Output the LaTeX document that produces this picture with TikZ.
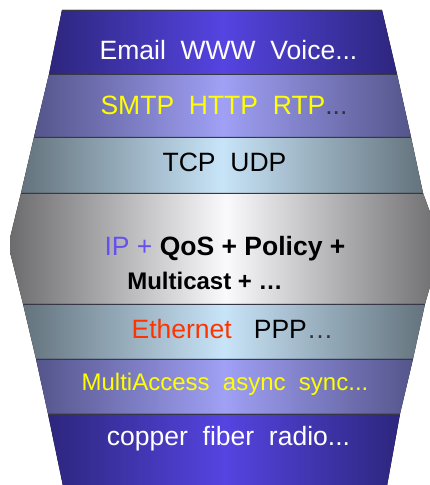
\documentclass[tikz,border=0pt]{standalone}
\usepackage{fontspec}
\setmainfont{Liberation Sans}
\definecolor{cAedge}{RGB}{45,38,125}
\definecolor{cAmid}{RGB}{85,68,225}
\definecolor{cBedge}{RGB}{85,85,140}
\definecolor{cBmid}{RGB}{160,160,245}
\definecolor{cCedge}{RGB}{100,115,125}
\definecolor{cCmid}{RGB}{200,228,248}
\definecolor{cDedge}{RGB}{108,108,110}
\definecolor{cDmid}{RGB}{250,250,253}
\definecolor{sepc}{RGB}{55,55,70}
\definecolor{ipblue}{RGB}{100,80,235}
\definecolor{ethred}{RGB}{255,51,0}
\definecolor{yel}{RGB}{255,255,0}
\definecolor{dots}{RGB}{50,50,60}
\begin{document}
\begin{tikzpicture}[x=1pt,y=1pt,
  layA/.style={left color=cAedge,right color=cAedge,middle color=cAmid},
  layB/.style={left color=cBedge,right color=cBedge,middle color=cBmid},
  layC/.style={left color=cCedge,right color=cCedge,middle color=cCmid},
  layD/.style={left color=cDedge,right color=cDedge,middle color=cDmid},
  sep/.style={draw=sepc,line width=0.9pt},
  txt/.style={anchor=base,inner sep=0pt,font=\fontsize{26.5}{31}\selectfont},
  txts/.style={anchor=base,inner sep=0pt,font=\fontsize{24}{29}\selectfont}]
\useasboundingbox (0,0) rectangle (430,485);
\fill[white] (0,0) rectangle (430,485);
% layers
\fill[layA] (62,475) -- (382,475) -- (397,411) -- (49,411) -- cycle;
\fill[layB] (49,411) -- (397,411) -- (411,348) -- (34,348) -- cycle;
\fill[layC] (34,348) -- (411,348) -- (423,292) -- (21,292) -- cycle;
\fill[layD] (21,292) -- (423,292) -- (442,240) -- (425,181) -- (23,181) -- (10,233) -- (10,247) -- cycle;
\fill[layC] (23,181) -- (425,181) -- (413,126) -- (36,126) -- cycle;
\fill[layB] (36,126) -- (413,126) -- (400,71) -- (48,71) -- cycle;
\fill[layA] (48,71) -- (400,71) -- (387,-1) -- (63,-1) -- cycle;
% separators
\draw[sep] (62,475) -- (382,475);
\draw[sep] (49,411) -- (397,411);
\draw[sep] (34,348) -- (411,348);
\draw[sep] (21,292) -- (423,292);
\draw[sep] (23,181) -- (425,181);
\draw[sep] (36,126) -- (413,126);
\draw[sep] (48,71) -- (400,71);
% texts
\node[txt,text=white] (app) at (228.5,425) {Email\ \ WWW\ \ Voice...};
\node[txt,text=yel] (proto) at (224,370) {SMTP\ \ HTTP\ \ RTP\textcolor{dots}{...}};
\node[txt,text=black] (trans) at (224.5,313) {TCP\ \ UDP};
\node[txt,text=black] (ip) at (225,229) {\textcolor{ipblue}{IP +} \textbf{QoS + Policy +}};
\node[txts,text=black] (mc) at (205,195) {\textbf{Multicast + …}};
\node[txt,text=black] (link) at (232.5,146) {\textcolor{ethred}{Ethernet}\ \ \ PPP\textcolor{dots}{…}};
\node[txts,text=yel] (mac) at (225,94) {MultiAccess\ \ async\ \ sync...};
\node[txt,text=white] (phy) at (228.5,39) {copper\ \ fiber\ \ radio...};
\end{tikzpicture}
\end{document}
